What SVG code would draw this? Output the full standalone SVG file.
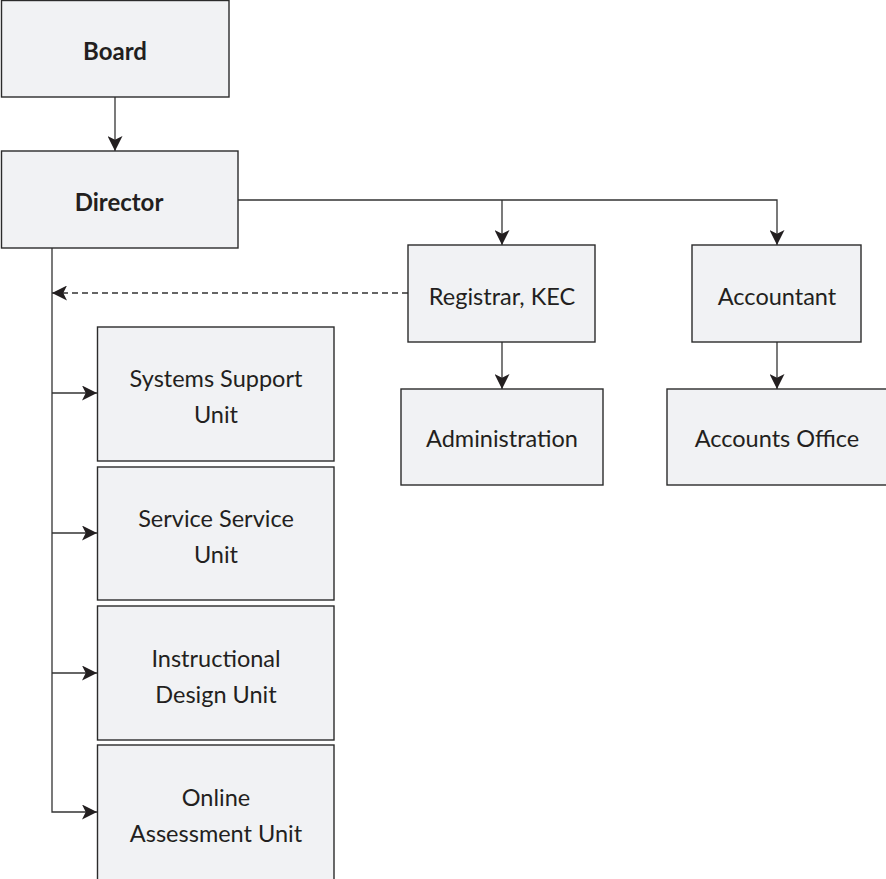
<svg xmlns="http://www.w3.org/2000/svg" width="886" height="879" viewBox="0 0 886 879">
<style>
.box{fill:#f1f2f4;stroke:#2b2b2b;stroke-width:1.4}
.t{font-family:Lato,"Open Sans","Liberation Sans",sans-serif;font-size:23.5px;fill:#231f20;text-anchor:middle;dominant-baseline:central}
.b{font-weight:bold;font-size:24px}
.c{fill:none;stroke:#333;stroke-width:1.3}
.d{stroke-dasharray:6 4}
</style>
<defs>
<marker id="ah" viewBox="0 0 10 10" refX="10" refY="5" markerWidth="15" markerHeight="15" markerUnits="userSpaceOnUse" orient="auto">
<path d="M0,0 L10,5 L0,10 L2.5,5 z" fill="#231f20"/>
</marker>
</defs>
<g id="connectors">
<path class="c" d="M115,97 V151" marker-end="url(#ah)"/>
<path class="c" d="M238,200 H777 V245" marker-end="url(#ah)"/>
<path class="c" d="M502,200 V245" marker-end="url(#ah)"/>
<path class="c" d="M502,342 V389" marker-end="url(#ah)"/>
<path class="c" d="M777,342 V389" marker-end="url(#ah)"/>
<path class="c d" d="M408,293 H52" marker-end="url(#ah)"/>
<path class="c" d="M52,248 V812 H97" marker-end="url(#ah)"/>
<path class="c" d="M52,393 H97" marker-end="url(#ah)"/>
<path class="c" d="M52,533 H97" marker-end="url(#ah)"/>
<path class="c" d="M52,673 H97" marker-end="url(#ah)"/>
</g>
<g id="board"><rect class="box" x="1.5" y="0.5" width="227.5" height="96.5"/><text class="t b" x="115" y="50">Board</text></g>
<g id="director"><rect class="box" x="1.5" y="151" width="236.5" height="97"/><text class="t b" x="119" y="201">Director</text></g>
<g id="registrar"><rect class="box" x="408" y="245" width="187" height="97"/><text class="t" x="502" y="296">Registrar, KEC</text></g>
<g id="accountant"><rect class="box" x="692" y="245" width="169" height="97"/><text class="t" x="777" y="296">Accountant</text></g>
<g id="administration"><rect class="box" x="401" y="389" width="202" height="96"/><text class="t" x="502" y="438">Administration</text></g>
<g id="accounts-office"><rect class="box" x="667" y="389" width="222" height="96"/><text class="t" x="777" y="438">Accounts Office</text></g>
<g id="systems-support"><rect class="box" x="97.5" y="327" width="236.5" height="134"/><text class="t" x="216" y="378">Systems Support</text><text class="t" x="216" y="414">Unit</text></g>
<g id="service-service"><rect class="box" x="97.5" y="467" width="236.5" height="133"/><text class="t" x="216" y="518">Service Service</text><text class="t" x="216" y="554">Unit</text></g>
<g id="instructional-design"><rect class="box" x="97.5" y="606" width="236.5" height="134"/><text class="t" x="216" y="658">Instructional</text><text class="t" x="216" y="694">Design Unit</text></g>
<g id="online-assessment"><rect class="box" x="97.5" y="745" width="236.5" height="140"/><text class="t" x="216" y="797">Online</text><text class="t" x="216" y="833">Assessment Unit</text></g>
</svg>
